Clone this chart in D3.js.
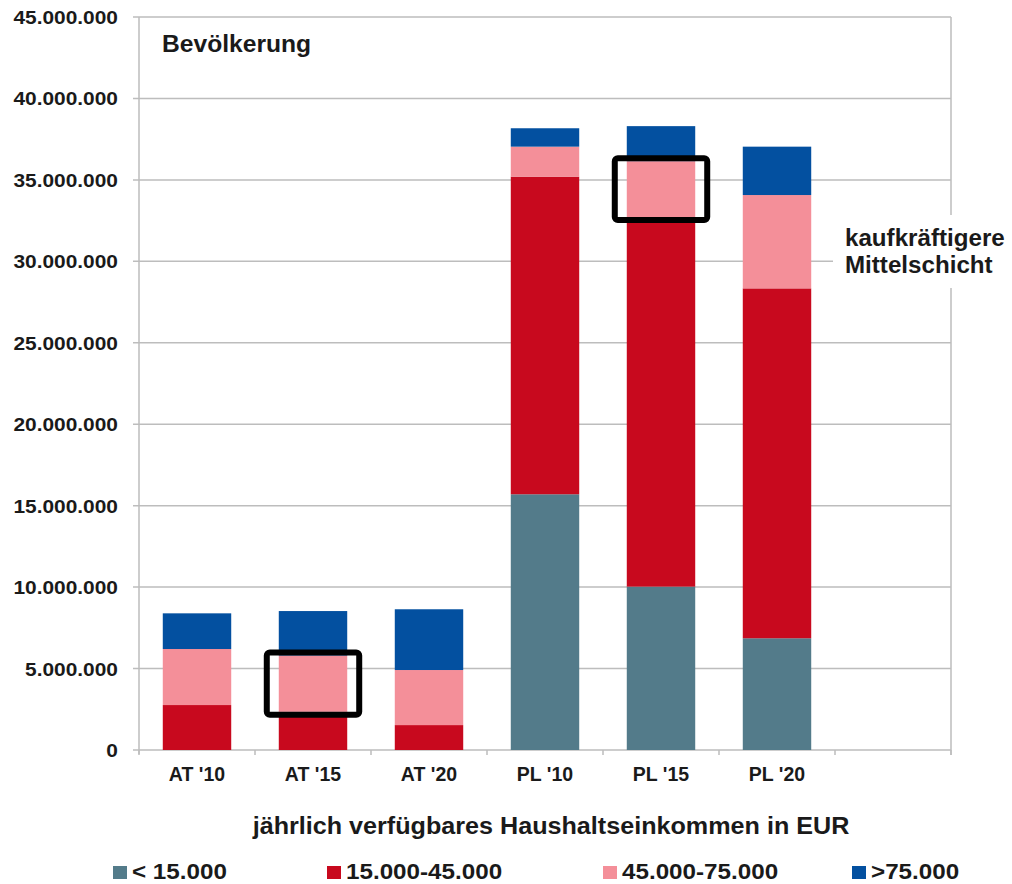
<!DOCTYPE html>
<html><head><meta charset="utf-8">
<script src="https://cdn.jsdelivr.net/npm/d3@7"></script>
<style>
html,body{margin:0;padding:0;background:#fff;}
text{font-family:"Liberation Sans",Arial,sans-serif;font-weight:bold;fill:#1a1a1a;}
</style></head>
<body>
<svg id="chart" width="1012" height="884"></svg>
<script>
// ---- data ----
const categories = ["AT '10", "AT '15", "AT '20", "PL '10", "PL '15", "PL '20"];
const seriesNames = ["< 15.000", "15.000-45.000", "45.000-75.000", ">75.000"];
const seriesColors = ["#537B8A", "#C8091E", "#F48F99", "#0350A0"];
const under15  = [0, 0, 0, 15700000, 10030000, 6860000];
const mid15_45 = [2760000, 2350000, 1530000, 19500000, 22690000, 21480000];
const mid45_75 = [3440000, 3450000, 3380000, 1840000, 3430000, 5730000];
const over75   = [2190000, 2730000, 3730000, 1130000, 2150000, 2970000];
const yTicks = [0, 5000000, 10000000, 15000000, 20000000, 25000000, 30000000, 35000000, 40000000, 45000000];
const highlighted = ["AT '15", "PL '15"];
const highlightSeries = "45.000-75.000";
const chartTitle = "Bevölkerung";
const xTitle = "jährlich verfügbares Haushaltseinkommen in EUR";
const annotation = ["kaufkräftigere", "Mittelschicht"];

// ---- layout ----
const svg = d3.select("#chart");
const L = 139, R = 951, T = 17, B = 750;
const slots = [...categories, "_empty"];
const x = d3.scaleBand().domain(slots).range([L, R]).paddingInner(0.41).paddingOuter(0.205);
const y = d3.scaleLinear().domain([0, 45000000]).range([B, T]);
const loc = d3.formatLocale({decimal: ",", thousands: ".", grouping: [3], currency: ["", "€"]});
const fmt = loc.format(",");
const color = d3.scaleOrdinal().domain(seriesNames).range(seriesColors);

const rows = categories.map((c, i) => ({cat: c, "< 15.000": under15[i], "15.000-45.000": mid15_45[i], "45.000-75.000": mid45_75[i], ">75.000": over75[i]}));
const stacked = d3.stack().keys(seriesNames)(rows);

function stretch(sel, k) {
  sel.each(function() { const w = this.getComputedTextLength(); d3.select(this).attr("textLength", w * k).attr("lengthAdjust", "spacingAndGlyphs"); });
}

// gridlines
const gridColor = "#BDBDBD";
svg.append("g").selectAll("line").data(yTicks).join("line")
  .attr("x1", L - 6).attr("x2", R).attr("y1", d => y(d)).attr("y2", d => y(d))
  .attr("stroke", gridColor).attr("stroke-width", 1.5);

// bars
svg.append("g").selectAll("g").data(stacked).join("g")
  .attr("fill", d => color(d.key))
  .selectAll("rect").data(d => d).join("rect")
  .attr("x", d => x(d.data.cat)).attr("width", x.bandwidth())
  .attr("y", d => y(d[1])).attr("height", d => y(d[0]) - y(d[1]));

// axes frame
svg.append("line").attr("x1", L).attr("x2", L).attr("y1", T).attr("y2", B + 4).attr("stroke", gridColor).attr("stroke-width", 1.5);
svg.append("line").attr("x1", R).attr("x2", R).attr("y1", T).attr("y2", B + 5).attr("stroke", gridColor).attr("stroke-width", 1.5);
const bounds = slots.map(s => x(s) - x.step() * x.paddingInner() / 2).concat([R]);
svg.append("g").selectAll("line").data(bounds).join("line")
  .attr("x1", d => d).attr("x2", d => d).attr("y1", B).attr("y2", B + 5)
  .attr("stroke", gridColor).attr("stroke-width", 1.5);

// y labels
const yl = svg.append("g").selectAll("text").data(yTicks).join("text")
  .attr("x", 118).attr("y", d => y(d) + 7).attr("text-anchor", "end")
  .attr("font-size", 19).text(d => fmt(d));
stretch(yl, 1.1);

// x labels
const xl = svg.append("g").selectAll("text").data(categories).join("text")
  .attr("x", d => x(d) + x.bandwidth() / 2).attr("y", 781).attr("text-anchor", "middle")
  .attr("font-size", 19.5).text(d => d);
stretch(xl, 1.0);

// title inside plot
stretch(svg.append("text").attr("x", 162).attr("y", 52).attr("font-size", 23).text(chartTitle), 1.07);

// x axis title
stretch(svg.append("text").attr("x", 551).attr("y", 834).attr("text-anchor", "middle").attr("font-size", 23.5).text(xTitle), 1.07);

// highlight boxes
const hi = stacked.find(s => s.key === highlightSeries);
svg.append("g").selectAll("rect").data(hi.filter(d => highlighted.includes(d.data.cat))).join("rect")
  .attr("x", d => x(d.data.cat) - 12).attr("width", x.bandwidth() + 24)
  .attr("y", d => y(d[1]) - 3).attr("height", d => y(d[0]) - y(d[1]) + 6)
  .attr("rx", 3).attr("fill", "none").attr("stroke", "#000").attr("stroke-width", 6);

// annotation with white background
svg.append("rect").attr("x", 833).attr("y", 215).attr("width", 179).attr("height", 73).attr("fill", "#fff");
const an = svg.append("g").selectAll("text").data(annotation).join("text")
  .attr("x", 845).attr("y", (d, i) => 246 + i * 27).attr("font-size", 23).text(d => d);
stretch(an, 1.05);

// legend
const legX = [113, 327, 603, 852];
const lg = svg.append("g").selectAll("g").data(seriesNames).join("g")
  .attr("transform", (d, i) => `translate(${legX[i]},0)`);
lg.append("rect").attr("x", 0).attr("y", 866).attr("width", 14).attr("height", 13).attr("fill", d => color(d));
const lt = lg.append("text").attr("x", 19).attr("y", 879).attr("font-size", 22).text(d => d);
stretch(lt, 1.1);
</script>
</body></html>
